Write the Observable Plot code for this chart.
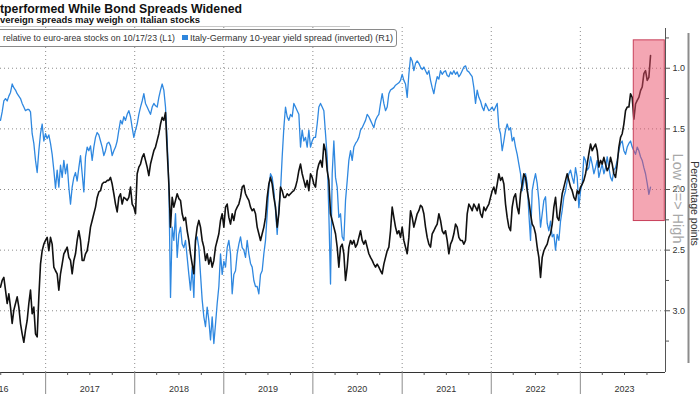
<!DOCTYPE html>
<html><head><meta charset="utf-8">
<script src="https://cdn.jsdelivr.net/npm/d3@7"></script>
<script src="https://cdn.jsdelivr.net/npm/@observablehq/plot@0.6"></script>
<style>
html,body{margin:0;padding:0;background:#fff;}
#page{position:relative;width:700px;height:394px;overflow:hidden;font-family:"Liberation Sans",Arial,sans-serif;}
.fit{position:absolute;white-space:nowrap;transform-origin:0 0;}
#title{left:0;top:2.6px;font-size:13px;line-height:11px;font-weight:bold;color:#111;}
#subtitle{left:0;top:15.6px;font-size:9px;line-height:8px;font-weight:bold;color:#111;}
#sep{position:absolute;left:0;top:26px;width:350px;height:1px;background:#c8c8c8;}
#chart{position:absolute;left:0;top:27px;}
#legendbox{position:absolute;left:-20px;top:29px;width:417px;height:17.5px;border:1px solid #8a8a8a;border-radius:3px;background:#fff;box-sizing:border-box;}
.leg{font-size:9px;line-height:9px;color:#333;top:34px;}
#leg1{left:3px;}
#leg2{left:190px;}
#sw{position:absolute;left:182px;top:34.5px;width:5.5px;height:5.5px;background:#2f86dd;}
</style>
</head><body>
<div id="page">
  <div id="chart"></div>
  <div id="title" class="fit">tperformed While Bond Spreads Widened</div>
  <div id="subtitle" class="fit">vereign spreads may weigh on Italian stocks</div>
  <div id="sep"></div>
  <div id="legendbox"></div>
  <div id="leg1" class="fit leg"> relative to euro-area stocks on 10/17/23 (L1)</div>
  <div id="sw"></div>
  <div id="leg2" class="fit leg">Italy-Germany 10-year yield spread (inverted) (R1)</div>
</div>
<script>
// ---- data ----
const sampleStart = "2016-06-30";   // first visible sample
const sampleStepDays = 6.83;        // spacing between samples

// Italy-Germany 10-year yield spread, percentage points (R1, inverted)
const spread = [
1.43,1.36,1.27,1.25,1.27,1.23,1.20,1.13,1.16,1.18,1.21,1.23,1.25,1.29,1.32,1.35,1.34,1.34,1.36,1.54,1.62,1.76,1.86,1.68,1.54,1.46,1.60,1.54,1.58,1.55,1.62,1.71,1.84,1.99,1.84,1.98,1.80,1.90,1.76,1.87,1.79,1.98,2.12,1.98,1.90,1.86,1.93,1.82,1.72,1.87,2.02,1.73,1.65,1.68,1.64,1.76,1.65,1.57,1.53,1.55,1.60,1.65,1.72,1.68,1.62,1.61,
1.64,1.72,1.68,1.65,1.60,1.51,1.43,1.46,1.40,1.43,1.38,1.35,1.40,1.49,1.57,1.51,1.46,1.38,1.32,1.27,1.21,1.29,1.32,1.35,1.38,1.32,1.29,1.31,1.32,1.24,1.18,1.13,1.18,1.32,1.60,1.95,2.89,2.31,2.42,2.20,2.56,2.37,2.31,2.45,2.48,2.42,2.56,2.70,2.83,2.64,2.89,2.42,2.39,2.48,2.70,2.91,3.05,3.13,2.97,3.08,3.24,3.05,3.27,3.11,2.94,2.80,
2.53,2.70,2.59,2.64,2.48,2.42,2.53,2.86,2.70,2.67,2.53,2.45,2.39,2.48,2.50,2.56,2.42,2.53,2.61,2.64,2.75,2.80,2.80,2.86,2.70,2.67,2.53,2.42,2.20,1.98,1.87,1.90,2.01,2.17,2.37,2.15,2.01,1.73,1.49,1.32,1.40,1.43,1.38,1.40,1.29,1.32,1.35,1.38,1.65,1.51,1.60,1.57,1.65,1.51,1.65,1.60,1.57,1.57,1.46,1.32,1.29,1.32,1.35,1.54,1.73,2.20,
2.78,1.87,1.60,1.90,1.98,2.23,2.20,2.39,2.42,2.09,1.93,1.76,1.68,1.76,1.65,1.62,1.60,1.57,1.51,1.49,1.46,1.43,1.38,1.40,1.43,1.46,1.49,1.43,1.40,1.38,1.29,1.21,1.29,1.35,1.32,1.21,1.18,1.17,1.16,1.14,1.13,1.12,1.10,1.05,1.10,1.13,1.24,1.05,0.91,0.94,1.02,0.96,0.94,0.96,0.99,1.01,0.99,1.02,1.05,1.02,1.10,1.16,1.21,1.13,1.07,1.09,
1.02,1.05,1.03,1.02,1.06,1.07,1.03,1.05,1.02,1.05,1.03,1.07,1.05,1.02,0.99,0.98,1.02,1.03,1.05,1.07,1.16,1.29,1.18,1.24,1.27,1.32,1.35,1.29,1.32,1.35,1.34,1.32,1.35,1.32,1.29,1.49,1.54,1.68,1.60,1.51,1.46,1.51,1.49,1.60,1.57,1.65,1.71,1.79,1.87,2.01,1.93,1.87,1.95,2.20,2.42,2.01,1.93,1.87,1.95,2.09,2.31,2.20,2.09,2.06,2.28,2.34,
2.26,2.39,2.37,2.50,2.37,2.42,2.26,2.17,2.06,2.01,1.93,1.87,1.84,1.90,1.95,1.82,1.90,2.15,2.01,1.95,1.73,1.76,1.84,1.82,1.73,1.79,1.87,1.82,1.76,1.90,1.84,1.79,1.87,1.82,1.73,1.82,1.90,1.93,1.84,1.82,1.76,1.68,1.62,1.60,1.68,1.71,1.65,1.62,1.60,1.65,1.68,1.71,1.65,1.68,1.73,1.76,1.82,1.87,1.95,2.04,1.98
];

// Italian stocks relative to euro-area stocks, index (L1)
const stocks = [
83.9,85.0,85.5,83.4,81.2,82.8,80.6,77.9,80.1,81.2,82.3,80.6,77.9,76.2,74.8,76.8,78.4,81.2,83.4,79.5,80.6,76.2,75.7,82.3,87.7,89.9,91.0,91.6,92.1,89.9,92.1,91.0,87.2,86.6,86.1,83.4,86.1,87.7,89.4,89.9,90.5,88.8,88.3,86.1,88.3,89.4,91.6,93.2,91.6,88.3,88.3,89.4,89.9,91.6,93.8,94.9,96.0,97.1,98.7,99.6,99.8,100.9,101.2,101.2,101.5,101.5,
102.0,100.9,99.3,97.6,96.3,98.7,99.3,97.6,98.7,98.5,98.2,98.7,100.4,97.6,97.1,96.0,102.6,103.7,104.2,105.3,105.9,104.8,103.7,102.3,104.2,105.3,106.4,107.0,108.1,109.2,110.8,111.9,111.4,112.7,106.4,100.9,93.8,98.7,97.1,98.2,99.3,98.5,98.2,96.0,94.9,95.4,93.2,91.6,89.4,87.7,86.1,91.6,93.8,94.9,93.8,91.6,90.5,88.3,89.4,87.7,88.8,87.2,88.3,90.5,91.6,92.7,
94.9,96.0,93.8,97.1,97.6,95.4,94.3,96.0,94.9,96.5,97.1,97.6,98.7,100.4,100.7,99.3,98.7,98.2,97.1,96.5,96.8,96.0,93.8,92.7,91.6,92.7,93.8,95.4,98.7,100.9,102.0,100.9,98.7,97.1,93.8,96.0,100.4,99.8,98.7,98.7,99.3,99.0,99.3,99.6,99.8,100.4,101.5,103.1,104.2,102.6,101.5,100.4,101.5,99.8,102.6,102.0,100.9,100.4,103.1,104.2,104.8,103.7,107.5,106.4,103.1,101.5,
96.0,94.9,93.8,92.7,90.5,87.2,90.5,91.0,89.4,85.0,87.2,90.5,91.6,91.0,91.6,90.5,91.0,92.1,93.2,91.6,91.0,91.6,90.5,89.4,88.8,88.3,87.7,87.2,87.7,87.2,86.6,86.1,87.7,88.8,89.9,90.5,93.2,97.1,95.4,93.8,92.7,93.2,92.1,93.8,91.6,90.5,89.4,92.1,96.5,95.4,93.8,94.9,96.0,96.5,97.4,97.1,96.0,93.8,92.1,91.0,90.5,92.7,93.2,93.8,94.3,96.0,
94.9,93.2,92.7,93.2,91.6,89.4,91.0,91.6,92.7,94.3,93.8,92.1,91.6,91.6,91.0,91.6,96.0,97.6,97.1,96.5,97.6,97.1,96.5,97.6,96.0,95.4,97.1,96.5,97.1,97.6,98.7,99.8,100.4,99.3,100.9,102.6,101.5,102.0,100.9,97.6,95.4,93.8,93.2,97.1,98.7,99.3,97.1,96.0,99.3,100.9,102.6,102.0,99.8,98.2,96.0,94.3,93.8,92.7,90.5,88.8,85.5,88.8,89.9,90.5,91.0,92.1,
92.7,94.3,97.1,98.7,95.4,94.9,97.1,99.3,100.4,101.5,102.6,101.5,100.4,99.8,98.7,98.2,99.8,99.3,100.4,100.9,101.5,102.6,104.2,105.9,107.5,106.4,107.0,107.5,106.4,103.7,104.8,104.2,105.3,104.2,103.1,103.7,105.3,104.2,102.6,102.0,104.2,107.0,108.6,109.2,110.8,113.0,113.6,113.6,115.8,115.2,111.6,114.1,114.7,115.2,116.3,116.9,119.1,119.6,118.0,118.5,122.1
];

// x-axis years and the tick labels as they appear (the 2016 label is cut by the frame)
const years = [2016, 2017, 2018, 2019, 2020, 2021, 2022, 2023];
const yearLabels = ["16", "2017", "2018", "2019", "2020", "2021", "2022", "2023"];
const rightTicks = [1.0, 1.5, 2.0, 2.5, 3.0];
const rightMinorTicks = [0.75, 1.25, 1.75, 2.25, 2.75, 3.25];
const highlightStart = "2023-08-08";
const highlightEnd = "2023-12-13";
const highlightTop = 0.77;
const highlightBottom = 2.26;
const sideLabel = "Low <=> High";
const unitLabel = "Percentage points";

// ---- layout ----
const W = 700, H = 367, mRight = 35, mBottom = 22;
const xDomain = [new Date("2016-06-30"), new Date("2023-12-16")];
const yDomain = [0.664, 3.509];
const plotW = W - mRight;
const msPerPx = (xDomain[1] - xDomain[0]) / plotW;
const xAtPx = px => new Date(+xDomain[0] + px * msPerPx);
const yPerPx = (yDomain[1] - yDomain[0]) / (H - mBottom);
const yAtPx = py => yDomain[0] + py * yPerPx;   // svg px -> value

// L1 index mapped onto the R1 pixel space (100 <-> 2.0, 10 pts per 0.5)
const l1ToR1 = v => 2.0 + (100 - v) / 20;

const t0 = Date.parse(sampleStart);
const dateAt = i => new Date(t0 + i * sampleStepDays * 864e5);
const spreadData = spread.map((v, i) => ({date: dateAt(i), v}));
const stockData = stocks.map((v, i) => ({date: dateAt(i), v: l1ToR1(v)}));

const yearStarts = years.slice(1).map(y => new Date(Date.UTC(y, 0, 1)));
const labelData = years.map((y, i) => ({
  date: i === 0 ? xAtPx(3) : new Date(Date.UTC(y, 6, 1)),
  text: yearLabels[i],
  anchor: i === 0 ? "start" : "middle"
}));
const quarterTicks = d3.utcMonth.every(3).range(xDomain[0], xDomain[1])
  .filter(d => d.getUTCMonth() !== 0);

const xEnd = xDomain[1];
const yBottom = yDomain[1];
const labelY = yAtPx(H - mBottom + 16.5);

const chart = Plot.plot({
  width: W, height: H,
  marginLeft: 0, marginRight: mRight, marginTop: 0, marginBottom: mBottom,
  style: {fontFamily: "'Liberation Sans', Arial, sans-serif", fontSize: "9px", color: "#333", background: "#fff", overflow: "visible"},
  x: {type: "utc", domain: xDomain},
  y: {domain: yDomain, reverse: true},
  marks: [
    Plot.gridX(yearStarts, {stroke: "#8c8c8c", strokeOpacity: 1, strokeDasharray: "1,3"}),
    Plot.gridY(rightTicks, {stroke: "#8c8c8c", strokeOpacity: 1, strokeDasharray: "1,3"}),
    Plot.lineY(spreadData, {x: "date", y: "v", stroke: "#2f88e0", strokeWidth: 1.3}),
    Plot.lineY(stockData, {x: "date", y: "v", stroke: "#111", strokeWidth: 1.6}),
    Plot.rect([0], {x1: () => new Date(highlightStart), x2: () => new Date(highlightEnd),
      y1: () => highlightTop, y2: () => highlightBottom,
      fill: "#ea4d68", fillOpacity: 0.5, stroke: "#c8405a", strokeWidth: 1}),
    Plot.ruleY([yBottom], {stroke: "#333", strokeWidth: 1}),
    Plot.ruleX([xEnd], {y1: yAtPx(1), y2: yBottom, stroke: "#555", strokeWidth: 1}),
    Plot.axisX(yearStarts, {tickSize: mBottom, tickFormat: () => "", stroke: "#8c8c8c", label: null}),
    Plot.axisX(quarterTicks, {tickSize: 3, tickFormat: () => "", stroke: "#555", label: null}),
    Plot.text(labelData, {x: "date", y: () => labelY, text: "text", textAnchor: "anchor", fontSize: 9, fill: "#333"}),
    Plot.axisY(rightTicks, {anchor: "right", tickSize: 4, tickPadding: 3, tickFormat: d3.format(".1f"), fontSize: 9, fill: "#333", stroke: "#555", label: null}),
    Plot.axisY(rightMinorTicks, {anchor: "right", tickSize: 3, tickFormat: () => "", stroke: "#555", label: null}),
    Plot.text([sideLabel], {x: () => xAtPx(677), y: () => yAtPx(171), text: d => d, rotate: 90, fontSize: 14.5, fill: "#a8a8a8", textAnchor: "middle"}),
    Plot.ruleX([0], {x: () => xAtPx(688), y1: () => yAtPx(6), y2: () => yAtPx(336), stroke: "#8c8c8c", strokeWidth: 2}),
    Plot.text([unitLabel], {x: () => xAtPx(694), y: () => yAtPx(176), text: d => d, rotate: 90, fontSize: 10.5, fill: "#333", textAnchor: "middle"})
  ]
});
document.getElementById("chart").appendChild(chart);

function fit(id, w) {
  const el = document.getElementById(id);
  el.style.transform = "none";
  const cw = el.getBoundingClientRect().width;
  if (cw > 0) el.style.transform = `scaleX(${w / cw})`;
}
function fitAll() {
  fit("title", 242);
  fit("subtitle", 200);
  fit("leg1", 172);
  fit("leg2", 203);
}
fitAll();
if (document.fonts && document.fonts.ready) document.fonts.ready.then(fitAll);
</script>
</body></html>
